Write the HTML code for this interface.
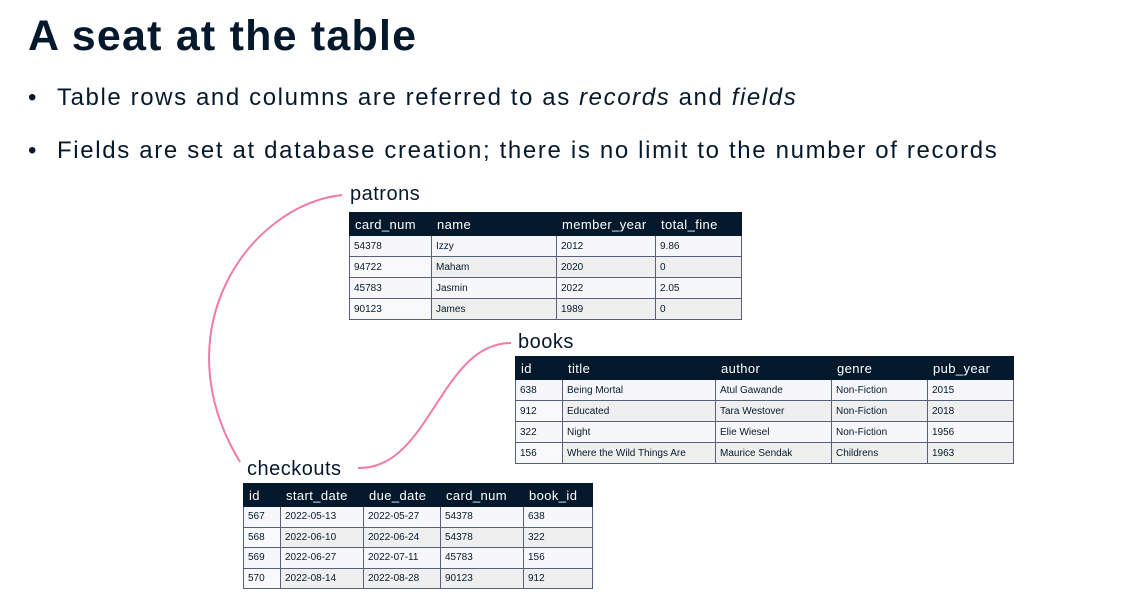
<!DOCTYPE html>
<html><head><style>
body{margin:0;width:1132px;height:601px;background:#fff;font-family:"Liberation Sans",sans-serif;color:#05192d;position:relative;overflow:hidden}
.a{position:absolute}
table{position:absolute;border-collapse:collapse;font-size:10px;table-layout:fixed}
th{background:#05192d;color:#fff;font-weight:normal;font-size:13px;letter-spacing:0.4px;text-align:left;padding:0 5px;height:22px;border:1px solid #05192d}
td{border:1px solid #56607a;padding:0 4px;height:19.5px;background:#efefef}
tr:nth-child(even) td{background:#f7f7fb}
td:first-child{background:#f9f9fc}
.t20 td{height:20px}
.lbl{position:absolute;font-size:20px;letter-spacing:0.5px;color:#05192d}
</style></head><body>
<div class="a" style="left:28px;top:12px;font-size:43px;font-weight:bold;letter-spacing:1.2px">A seat at the table</div>
<div class="a" style="left:28px;top:84px;font-size:24px;letter-spacing:1.6px"><span style="letter-spacing:0">•</span><span class="a" style="left:29px;white-space:nowrap">Table rows and columns are referred to as <i>records</i> and <i>fields</i></span></div>
<div class="a" style="left:28px;top:137px;font-size:24px;letter-spacing:1.65px"><span style="letter-spacing:0">•</span><span class="a" style="left:29px;white-space:nowrap">Fields are set at database creation; there is no limit to the number of records</span></div>
<svg class="a" style="left:0;top:0" width="1132" height="601"><path d="M342,195 C250,205 160,330 240,462" fill="none" stroke="#f07aa8" stroke-width="2"/><path d="M511,343 C440,343 430,470 358,468" fill="none" stroke="#f07aa8" stroke-width="2"/></svg>
<div class="lbl" style="left:350px;top:183px">patrons</div>
<table class="t20" style="left:349px;top:212px;width:393px">
<colgroup><col style="width:82px"><col style="width:125px"><col style="width:99px"><col style="width:86px"></colgroup>
<tr><th>card_num</th><th>name</th><th>member_year</th><th>total_fine</th></tr>
<tr><td>54378</td><td>Izzy</td><td>2012</td><td>9.86</td></tr>
<tr><td>94722</td><td>Maham</td><td>2020</td><td>0</td></tr>
<tr><td>45783</td><td>Jasmin</td><td>2022</td><td>2.05</td></tr>
<tr><td>90123</td><td>James</td><td>1989</td><td>0</td></tr>
</table>
<div class="lbl" style="left:518px;top:331px">books</div>
<table class="t20" style="left:515px;top:356px;width:499px">
<colgroup><col style="width:47px"><col style="width:153px"><col style="width:116px"><col style="width:96px"><col style="width:86px"></colgroup>
<tr><th>id</th><th>title</th><th>author</th><th>genre</th><th>pub_year</th></tr>
<tr><td>638</td><td>Being Mortal</td><td>Atul Gawande</td><td>Non-Fiction</td><td>2015</td></tr>
<tr><td>912</td><td>Educated</td><td>Tara Westover</td><td>Non-Fiction</td><td>2018</td></tr>
<tr><td>322</td><td>Night</td><td>Elie Wiesel</td><td>Non-Fiction</td><td>1956</td></tr>
<tr><td>156</td><td>Where the Wild Things Are</td><td>Maurice Sendak</td><td>Childrens</td><td>1963</td></tr>
</table>
<div class="lbl" style="left:247px;top:458px">checkouts</div>
<table style="left:243px;top:483px;width:350px">
<colgroup><col style="width:37px"><col style="width:83px"><col style="width:77px"><col style="width:83px"><col style="width:69px"></colgroup>
<tr><th>id</th><th>start_date</th><th>due_date</th><th>card_num</th><th>book_id</th></tr>
<tr><td>567</td><td>2022-05-13</td><td>2022-05-27</td><td>54378</td><td>638</td></tr>
<tr><td>568</td><td>2022-06-10</td><td>2022-06-24</td><td>54378</td><td>322</td></tr>
<tr><td>569</td><td>2022-06-27</td><td>2022-07-11</td><td>45783</td><td>156</td></tr>
<tr><td>570</td><td>2022-08-14</td><td>2022-08-28</td><td>90123</td><td>912</td></tr>
</table>
</body></html>
